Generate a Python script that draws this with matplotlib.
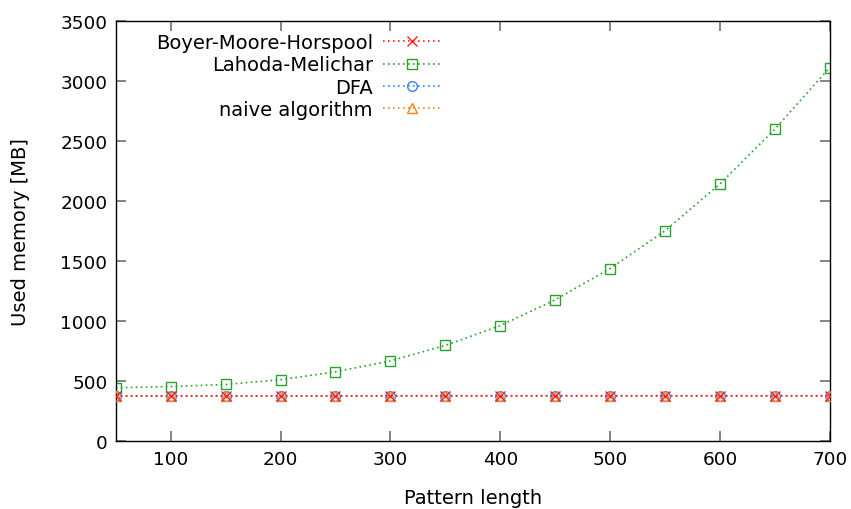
import matplotlib
matplotlib.use("Agg")
import matplotlib.pyplot as plt

pattern_length = [50, 100, 150, 200, 250, 300, 350, 400, 450, 500, 550, 600, 650, 700]
bmh = [376, 376, 376, 376, 376, 377, 377, 377, 377, 377, 377, 377, 377, 377]
lahoda = [445, 455, 472, 512, 578, 668, 797, 962, 1177, 1437, 1752, 2142, 2598, 3112]
dfa = [378, 378, 378, 378, 378, 379, 379, 379, 379, 379, 379, 379, 379, 379]
naive = [377, 377, 377, 377, 377, 378, 378, 378, 378, 378, 378, 378, 378, 378]

plt.rcParams["font.family"] = "DejaVu Sans"
plt.rcParams["font.size"] = 14

fig = plt.figure(figsize=(8.51, 5.10), dpi=100)
ax = fig.add_axes([0.136, 0.133, 0.839, 0.824])

dots = (0, (1, 2))
ax.plot(pattern_length, lahoda, color="#2ca02c", ls=dots, lw=1.2,
        marker="s", ms=7, mfc="none", mew=1.0, label="Lahoda-Melichar", zorder=2)
ax.plot(pattern_length, dfa, color="#3385ff", ls=dots, lw=1.2,
        marker="o", ms=7, mfc="none", mew=1.0, label="DFA", zorder=3)
ax.plot(pattern_length, naive, color="#ff7f1e", ls=dots, lw=1.2,
        marker="^", ms=7, mfc="none", mew=1.0, label="naive algorithm", zorder=4)
ax.plot(pattern_length, bmh, color="#ff2020", ls=dots, lw=1.2,
        marker="x", ms=7, mew=1.0, label="Boyer-Moore-Horspool", zorder=5)

ax.set_xlim(50, 700)
ax.set_ylim(0, 3500)
ax.set_xticks(range(100, 701, 100))
ax.set_yticks(range(0, 3501, 500))
ax.tick_params(direction="in", top=True, right=True, length=7.5, width=1.2,
               color="#707070", labelsize=13.3, pad=6)
for s in ax.spines.values():
    s.set_linewidth(1.0)
ax.set_xlabel("Pattern length", labelpad=15)
ax.set_ylabel("Used memory [MB]", labelpad=22)

handles, labels = ax.get_legend_handles_labels()
order = [3, 0, 1, 2]
ax.legend([handles[i] for i in order], [labels[i] for i in order],
          loc="upper right", bbox_to_anchor=(0.454, 0.971), frameon=False,
          markerfirst=False, handlelength=2.9, handletextpad=0.55,
          labelspacing=0.17, borderaxespad=0.0, borderpad=0.0)

fig.savefig("out.png", dpi=100)
